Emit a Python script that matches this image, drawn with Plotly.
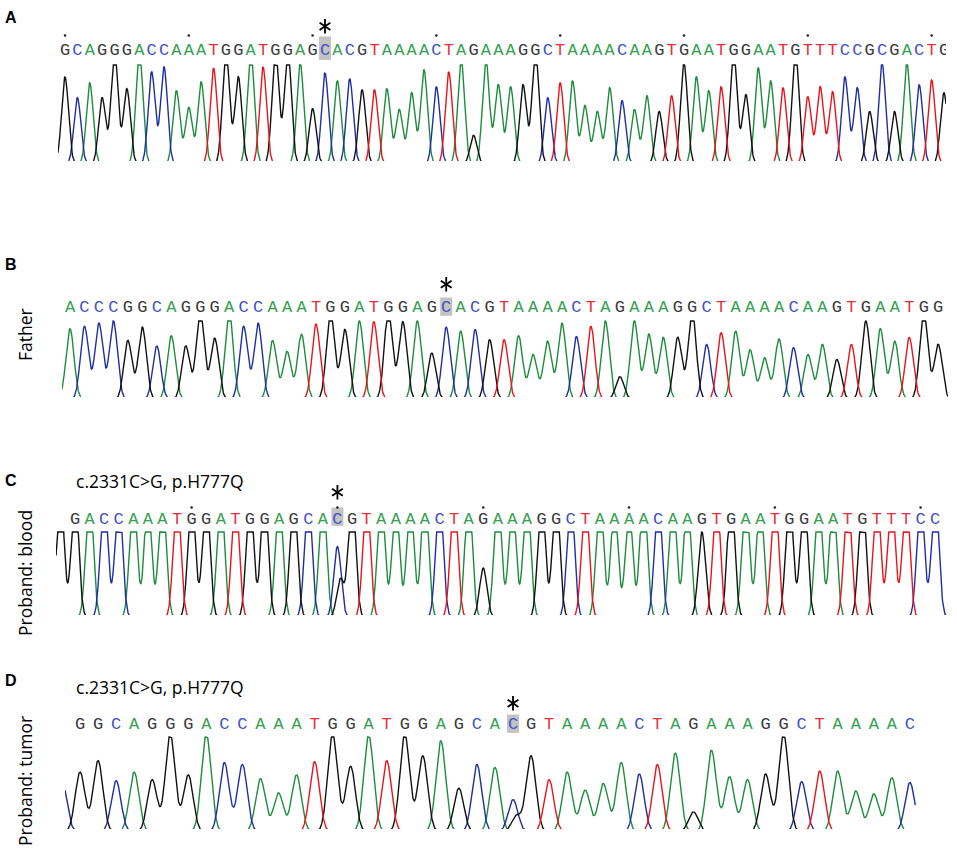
import numpy as np
import plotly.graph_objects as go

W, H = 957, 849

# base calls read off each trace, and the peak height under each call
# (1.0 = top of the trace window, higher values come out clipped flat)
seq_a = "GCAGGGACCAAATGGATGGAGCACGTAAAACTAGAAAGGCTAAAACAAGTGAATGGAATGTTTCCGCGACTG"
peaks_a = [0.88, 0.67, 0.82, 0.67, 1.15, 0.76, 1.15, 0.93, 0.98, 0.74,
           0.57, 0.83, 0.97, 1.15, 0.88, 1.15, 0.98, 1.15, 1.15, 1.02,
           0.56, 0.92, 0.84, 0.86, 0.75, 0.75, 0.76, 0.55, 0.72, 0.95,
           0.78, 0.93, 1.05, 0.29, 1.05, 0.80, 0.78, 0.80, 1.15, 0.67,
           0.82, 0.84, 0.59, 0.53, 0.77, 0.64, 0.55, 0.69, 0.53, 0.69,
           1.02, 0.88, 0.74, 0.78, 1.15, 0.70, 0.97, 0.84, 0.77, 1.15,
           0.68, 0.78, 0.73, 0.88, 0.77, 0.53, 1.02, 0.53, 1.02, 0.80,
           0.85, 0.72]

seq_b = "ACCCGGCAGGGACCAAATGGATGGAGCACGTAAAACTAGAAAGGCTAAAACAAGTGAATGG"
peaks_b = [0.90, 0.93, 0.97, 1.00, 0.75, 0.92, 0.68, 0.81, 0.68, 1.12,
           0.78, 1.12, 0.93, 0.97, 0.75, 0.61, 0.83, 0.96, 1.12, 0.89,
           1.00, 0.99, 1.12, 0.99, 1.00, 0.59, 0.92, 0.87, 0.89, 0.76,
           0.76, 0.81, 0.57, 0.74, 0.97, 0.80, 0.93, 1.00, 0.29, 1.00,
           0.83, 0.79, 0.79, 1.12, 0.70, 0.85, 0.87, 0.63, 0.53, 0.77,
           0.66, 0.57, 0.70, 0.51, 0.70, 1.00, 0.90, 0.74, 0.79, 1.12,
           0.70]

# first base of C and D is only a partial peak at the left edge (no call shown)
seq_c = "GGACCAAATGGATGGAGCACGTAAAACTAGAAAGGCTAAAACAAGTGAATGGAATGTTTCC"
peaks_c = [1.5, 1.5, 1.5, 1.5, 1.5, 1.5, 1.4, 1.5, 1.5, 1.5,
           1.5, 1.5, 1.5, 1.5, 1.5, 1.5, 1.5, 1.5, 1.5, 0.83,
           1.5, 1.5, 1.5, 1.4, 1.4, 1.5, 1.5, 1.5, 1.5, 0.58,
           1.5, 1.4, 1.5, 1.5, 1.5, 1.5, 1.5, 1.5, 1.3, 1.3,
           1.5, 1.5, 1.5, 1.4, 1.0, 1.5, 1.5, 1.5, 1.4, 1.5,
           1.5, 1.5, 1.5, 1.4, 1.5, 1.5, 1.5, 1.5, 1.5, 1.5,
           1.5]

seq_d = "CGGCAGGGACCAAATGGATGGAGCACGTAAAACTAGAAAGGCTAAAAC"
peaks_d = [0.53, 0.63, 0.75, 0.54, 0.63, 0.55, 1.03, 0.60, 1.03, 0.73,
           0.71, 0.56, 0.41, 0.60, 0.74, 1.03, 0.69, 1.02, 0.75, 1.03,
           0.80, 0.96, 0.46, 0.71, 0.68, 0.34, 0.80, 0.55, 0.63, 0.44,
           0.51, 0.73, 0.61, 0.71, 0.83, 0.21, 0.86, 0.58, 0.55, 0.61,
           1.03, 0.53, 0.64, 0.64, 0.43, 0.40, 0.57, 0.52]

# variant position (index into each sequence) and the minor G peak under it
mut_a, mut_b, mut_c, mut_d = 21, 26, 19, 25
minor_c = ("G", 19.2, 0.45)
minor_d = ("G", 25.2, 0.17)

panel_letters = ["A", "B", "C", "D"]
side_labels = ["", "Father", "Proband: blood", "Proband: tumor"]
variant_text = "c.2331C>G, p.H777Q"

trace_col = {"A": "#1d8c3d", "C": "#1f2ea3", "G": "#111111", "T": "#e8141c"}
text_col = {"A": "#35a050", "C": "#4452c4", "G": "#3a3a3a", "T": "#e5303e"}

# pixel geometry of each strip
panels = [
    dict(seq=seq_a, peaks=peaks_a, mut=mut_a, minor=None, lead=0, dot0=0,
         left=58, right=946, top=64, base=161, p0=65, sp=12.38, sig=0.28,
         let=50, dot=35, star=26, box=(36, 59), end=None),
    dict(seq=seq_b, peaks=peaks_b, mut=mut_b, minor=None, lead=0, dot0=None,
         left=62, right=948, top=320, base=397, p0=70, sp=14.47, sig=0.28,
         let=307, dot=None, star=284, box=(297, 315), end=None),
    dict(seq=seq_c, peaks=peaks_c, mut=mut_c, minor=minor_c, lead=1, dot0=9,
         left=56, right=948, top=531, base=615, p0=60.4, sp=14.58, sig=0.25,
         let=519, dot=507, star=492, box=(507, 525), end=None),
    dict(seq=seq_d, peaks=peaks_d, mut=mut_d, minor=minor_d, lead=1, dot0=None,
         left=65, right=948, top=736, base=829, p0=62, sp=18.04, sig=0.27,
         let=724, dot=None, star=703, box=(714, 732), end=47.3),
]

fig = go.Figure()
shapes = []
layout_axes = {}

for k, p in enumerate(panels):
    n = k + 1
    xa = "x" if n == 1 else f"x{n}"
    ya = "y" if n == 1 else f"y{n}"
    upper = p["star"] - 14
    unit = p["base"] - p["top"]

    def ypos(px):
        return (p["base"] - px) / unit

    lo = (p["left"] - p["p0"]) / p["sp"]
    hi = (p["right"] - p["p0"]) / p["sp"]
    xs = np.linspace(lo, p["end"] if p["end"] else hi, 3000)
    idx = np.arange(len(p["seq"]))

    for b in ["A", "C", "G", "T"]:
        ys = np.zeros_like(xs)
        for i, (call, h) in enumerate(zip(p["seq"], p["peaks"])):
            if call == b:
                ys += h * np.exp(-(xs - i) ** 2 / (2 * p["sig"] ** 2))
        if p["minor"] and p["minor"][0] == b:
            ys += p["minor"][2] * np.exp(-(xs - p["minor"][1]) ** 2 / (2 * p["sig"] ** 2))
        fig.add_trace(go.Scatter(x=xs, y=np.minimum(ys, 1.0), mode="lines",
                                 line=dict(color=trace_col[b], width=1.4),
                                 xaxis=xa, yaxis=ya, hoverinfo="skip"))

    # base calls
    calls = list(p["seq"])[p["lead"]:]
    fig.add_trace(go.Scatter(x=idx[p["lead"]:], y=[ypos(p["let"])] * len(calls),
                             mode="text", text=calls,
                             textfont=dict(family="Liberation Mono", size=17,
                                           color=[text_col[c] for c in calls]),
                             xaxis=xa, yaxis=ya, hoverinfo="skip"))
    # tick dots every 10 bases
    if p["dot0"] is not None:
        d = idx[p["dot0"]::10]
        fig.add_trace(go.Scatter(x=d, y=[ypos(p["dot"])] * len(d), mode="markers",
                                 marker=dict(color="#222", size=2.5),
                                 xaxis=xa, yaxis=ya, hoverinfo="skip"))
    # six-spoke asterisk over the variant (a Y and an inverted Y on top of each other)
    for sym in ["y-up-open", "y-down-open"]:
        fig.add_trace(go.Scatter(x=[p["mut"]], y=[ypos(p["star"])], mode="markers",
                                 marker=dict(symbol=sym, size=9, color="black",
                                             line=dict(color="black", width=1.8)),
                                 xaxis=xa, yaxis=ya, hoverinfo="skip"))
    half = 6 / p["sp"]
    shapes.append(dict(type="rect", xref=xa, yref=ya, layer="below",
                       x0=p["mut"] - half, x1=p["mut"] + half,
                       y0=ypos(p["box"][1]), y1=ypos(p["box"][0]),
                       fillcolor="#c3c3c3", line=dict(width=0)))

    # range starts a hair above zero so the flat baseline is clipped away
    layout_axes[f"xaxis{'' if n == 1 else n}"] = dict(
        domain=[p["left"] / W, p["right"] / W], range=[lo, hi], visible=False, fixedrange=True)
    layout_axes[f"yaxis{'' if n == 1 else n}"] = dict(
        domain=[1 - p["base"] / H, 1 - upper / H], range=[0.03, (p["base"] - upper) / unit],
        visible=False, fixedrange=True)

annotations = []
letter_rows = [17, 264, 480, 680]
for lab, row in zip(panel_letters, letter_rows):
    annotations.append(dict(text=f"<b>{lab}</b>", x=11 / W, y=1 - row / H, xref="paper", yref="paper",
                            showarrow=False, xanchor="center", yanchor="middle",
                            font=dict(family="Liberation Sans", size=16, color="black")))

side_rows = [0, 335, 573, 781]
for lab, row in zip(side_labels, side_rows):
    if lab:
        annotations.append(dict(text=lab, x=25 / W, y=1 - row / H, xref="paper", yref="paper",
                                showarrow=False, textangle=-90, xanchor="center", yanchor="middle",
                                font=dict(family="Open Sans", size=17.5, color="black")))

for row in [481, 687]:
    annotations.append(dict(text=variant_text, x=74 / W, y=1 - row / H, xref="paper", yref="paper",
                            showarrow=False, xanchor="left", yanchor="middle",
                            font=dict(family="Open Sans", size=17.5, color="black")))

fig.update_layout(width=W, height=H, margin=dict(l=0, r=0, t=0, b=0),
                  paper_bgcolor="white", plot_bgcolor="white", showlegend=False,
                  shapes=shapes, annotations=annotations, **layout_axes)

# drop the page's default body margin so the figure sits at the window corner
fig.write_html("out.html", config={"displayModeBar": False},
               post_script="document.body.style.margin='0';")
